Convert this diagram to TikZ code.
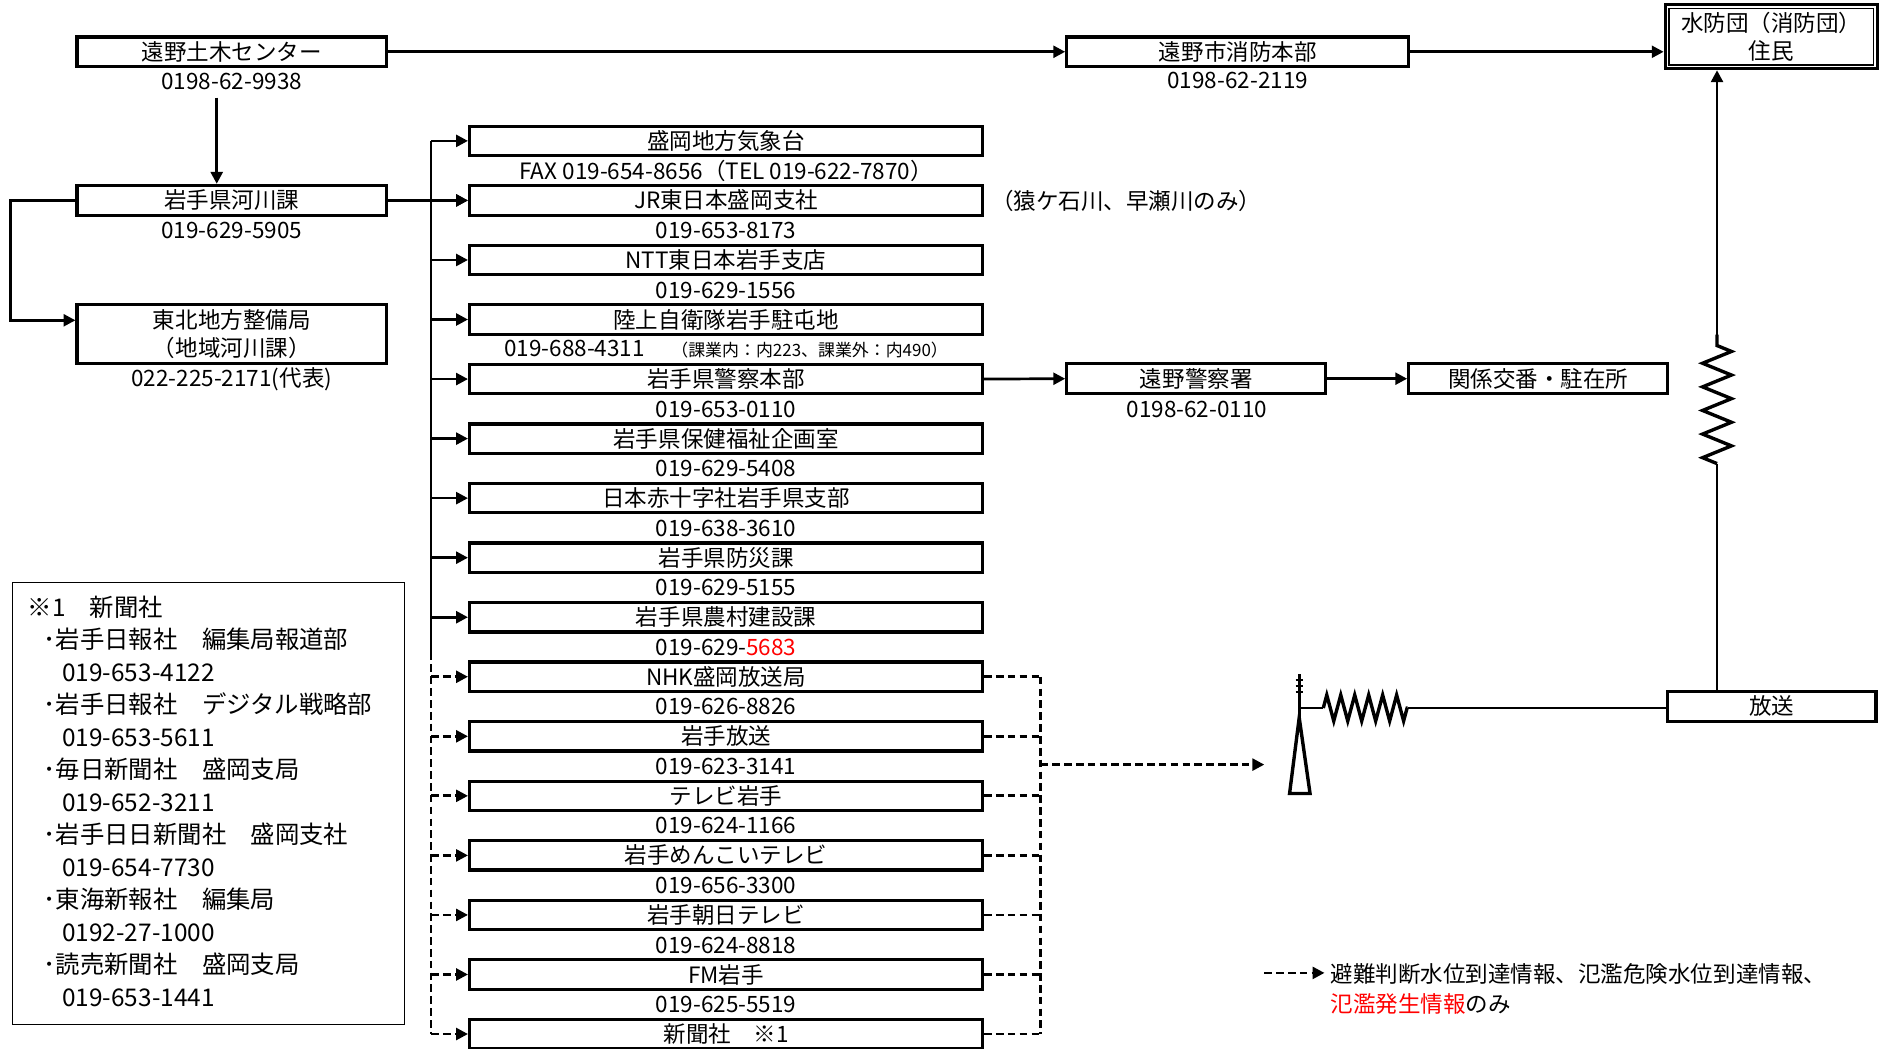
\documentclass[tikz,border=0pt]{standalone}
\usepackage{fontspec}
\setmainfont{Noto Sans CJK JP}
\usetikzlibrary{arrows.meta, calc, decorations.pathmorphing}

\begin{document}
\begin{tikzpicture}[x=0.025cm, y=-0.025cm, line width=1.6pt,
    font=\fontsize{13.3}{17}\selectfont,
    box/.style={draw, line width=1.9pt, inner sep=0pt, minimum height=0.61cm, minimum width=#1*0.025cm},
    tel/.style={inner sep=0pt},
    arr/.style={-{Triangle[length=7pt,width=7pt]}},
    dline/.style={dash pattern=on 4.5pt off 2.5pt},
    darr/.style={dline, -{Triangle[length=7pt,width=7pt]}},
    zzh/.style={decorate, line width=2pt, decoration={zigzag, segment length=0.29cm, amplitude=0.27cm}},
    zzv/.style={decorate, line width=2pt, decoration={zigzag, segment length=0.49cm, amplitude=0.3cm}}]
\useasboundingbox (0,0) rectangle (1568,871);

% top row
\node[box=257] (toono) at (192.5,43) {遠野土木センター};
\node[tel] (toonotel) at (192.5,68) {0198-62-9938};
\node[box=284] (shobo) at (1028,43) {遠野市消防本部};
\node[tel] (shobotel) at (1028,67) {0198-62-2119};
\node[box=176, minimum height=53*0.025cm, align=center] (suibo) at (1471,30.5) {水防団（消防団）\\住民};
\draw[line width=0.8pt] ($(suibo.north west)+(4.5,4.5)$) rectangle ($(suibo.south east)+(-4.5,-4.5)$);
\draw[arr] (toono.east) -- (shobo.west);
\draw[arr] (shobo.east) -- (shobo.east -| suibo.west);

% prefecture
\node[box=257, minimum height=25*0.025cm] (kasen) at (192.5,166.5) {岩手県河川課};
\node[tel] (kasentel) at (192.5,191) {019-629-5905};
\node[box=257, minimum height=49*0.025cm, align=center] (tohoku) at (192.5,277.5) {東北地方整備局\\（地域河川課）};
\node[tel] (tohokutel) at (192.5,315) {022-225-2171(代表)};
\coordinate (drop) at (180,81);
\draw[arr] (drop) -- (drop |- kasen.north);
\draw[arr] (kasen.west) -- ++(-54,0) |- ($(tohoku.west)+(0,-11.5)$);

% receivers
\foreach \i/\org/\phone in {
    1/盛岡地方気象台/{FAX 019-654-8656（TEL 019-622-7870）},
    2/JR東日本盛岡支社/019-653-8173,
    3/NTT東日本岩手支店/019-629-1556,
    4/陸上自衛隊岩手駐屯地/{019-688-4311\hspace{0.55cm}{\fontsize{10}{12}\selectfont（課業内：内223、課業外：内490）}},
    5/岩手県警察本部/019-653-0110,
    6/岩手県保健福祉企画室/019-629-5408,
    7/日本赤十字社岩手県支部/019-638-3610,
    8/岩手県防災課/019-629-5155,
    9/岩手県農村建設課/{019-629-\textcolor{red}{5683}},
    10/NHK盛岡放送局/019-626-8826,
    11/岩手放送/019-623-3141,
    12/テレビ岩手/019-624-1166,
    13/岩手めんこいテレビ/019-656-3300,
    14/岩手朝日テレビ/019-624-8818,
    15/FM岩手/019-625-5519}
{
    \node[box=426] (b\i) at (603,{117+49.45*(\i-1)}) {\org};
    \node[tel] (t\i) at (603,{142+49.45*(\i-1)}) {\phone};
}
\node[box=426] (b16) at (603,858.75) {新聞社　※1};
\node[anchor=west, inner sep=0pt] (note) at (822,167) {（猿ケ石川、早瀬川のみ）};

% bus lines
\coordinate (bus) at (358,117);
\coordinate (busend) at (358,542);
\draw (bus) -- (busend);
\draw[dline] (busend) -- (b16.west -| bus);
\draw[arr] (kasen.east) -- (b2.west);
\foreach \i in {1,...,9}
    \draw[arr] (b\i.west -| bus) -- (b\i.west);
\foreach \i in {10,...,16}
    \draw[darr] (b\i.west -| bus) -- (b\i.west);
\coordinate (rbus) at (864,562);
\foreach \i in {10,...,16}
    \draw[dline] (b\i.east) -- (b\i.east -| rbus);
\draw[dline] (b10.east -| rbus) -- (b16.east -| rbus);
\coordinate (antin) at (1050,635);
\draw[darr] (rbus |- antin) -- (antin);

% police
\node[box=215, minimum height=25*0.025cm] (toonops) at (993.5,314.5) {遠野警察署};
\node[tel] (toonopstel) at (994,340) {0198-62-0110};
\node[box=215, minimum height=25*0.025cm] (koban) at (1277.5,314.5) {関係交番・駐在所};
\draw[arr] (b5.east) -- (toonops.west);
\draw[arr] (toonops.east) -- (koban.west);

% broadcast
\node[box=173, minimum height=25*0.025cm] (hoso) at (1471.5,586.5) {放送};
\coordinate (ant) at (1079,588);
\draw[line width=2pt] (1079,560) -- (1079,598);
\foreach \y in {565,570,575}
    \draw[line width=1.2pt] (1076,\y) -- (1082,\y);
\draw[line width=2pt] (1079,596) -- (1088,659) -- (1071,659) -- cycle;
\coordinate (zl) at (1099,588);
\coordinate (zr) at (1169,588);
\draw (ant) -- (zl);
\draw[zzh] (zl) -- (zr);
\draw (zr) -- (zr -| hoso.west);
\coordinate (zbot) at (1426,385);
\coordinate (ztop) at (1426,278);
\draw (zbot |- hoso.north) -- (zbot);
\draw[zzv] (zbot) -- (ztop);
\draw[arr] (ztop) -- (ztop |- suibo.south);

% newspapers
\draw[line width=0.6pt] (10,484) rectangle (336,851);
\node[text width=300*0.025cm, inner xsep=13*0.025cm, inner ysep=0pt, align=left,
      font=\fontsize{14.4}{19.2}\selectfont] (papers) at (173,665.5)
    {※1　新聞社\\
     \hspace*{0.33cm}･岩手日報社　編集局報道部\\
     \hspace*{0.72cm}019-653-4122\\
     \hspace*{0.33cm}･岩手日報社　デジタル戦略部\\
     \hspace*{0.72cm}019-653-5611\\
     \hspace*{0.33cm}･毎日新聞社　盛岡支局\\
     \hspace*{0.72cm}019-652-3211\\
     \hspace*{0.33cm}･岩手日日新聞社　盛岡支社\\
     \hspace*{0.72cm}019-654-7730\\
     \hspace*{0.33cm}･東海新報社　編集局\\
     \hspace*{0.72cm}0192-27-1000\\
     \hspace*{0.33cm}･読売新聞社　盛岡支局\\
     \hspace*{0.72cm}019-653-1441};

% legend
\coordinate (legs) at (1050,808);
\coordinate (lege) at (1100,808);
\draw[darr] (legs) -- (lege);
\node[anchor=west, inner sep=0pt, align=left, font=\fontsize{13.3}{17.7}\selectfont] (legend) at (1104,821.5)
    {避難判断水位到達情報、氾濫危険水位到達情報、\\\textcolor{red}{氾濫発生情報}のみ};
\end{tikzpicture}
\end{document}
